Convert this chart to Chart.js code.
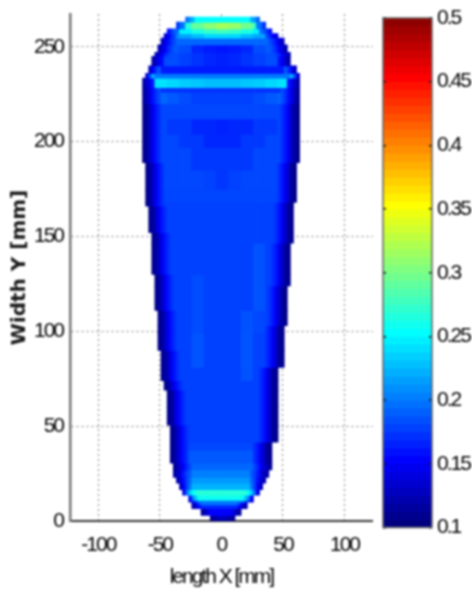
<!DOCTYPE html>
<html><head><meta charset="utf-8">
<style>
html,body{margin:0;padding:0;background:#fff;width:472px;height:597px;overflow:hidden}
canvas{position:absolute;left:0;top:0;filter:blur(0.8px)}
</style>
<script src="https://cdn.jsdelivr.net/npm/chart.js@4"></script>
</head><body>
<canvas id="map" width="472" height="597"></canvas>
<canvas id="bar" width="472" height="597"></canvas>
<script>
const xTickLabels = ['-100','-50','0','50','100'];
const yTickLabels = ['0','50','100','150','200','250'];
const colorbarTicks = {'0.1':'0.1','0.15':'0.15','0.2':'0.2','0.25':'0.25','0.3':'0.3','0.35':'0.35','0.4':'0.4','0.45':'0.45','0.5':'0.5'};
const xTitle = 'length X [mm]';
const yTitle = 'Width Y [mm]';

// Row boundaries of the map, bottom to top (mm)
const rowEdges = [0,3,6.5,8.5,10,11,13.6,16.6,20,23,27,30.5,37.4,41.6,50.6,60,69,74,81,90,99,103,111,124,130,146.5,152,166,168,175,185,189,197,204,212,220,226,228.5,233.5,236,240,245,247,251,254.6,257,259.5,263,265.6];
const rowLeft  = [-9.4,-17,-23,-23,-27,-27,-30.5,-34,-36,-38.6,-40,-42.5,-42.5,-42.5,-44,-44,-46,-48,-48,-51,-51,-51,-53,-53,-55.7,-55.7,-59,-62,-62,-62,-62,-64,-64,-64,-64,-64,-64,-64,-61.5,-59,-56,-54,-52,-50,-46,-43,-37,-29];
const rowRight = [12,15,21,21,26,26,30,33,37,39.6,42,42,42,45,45,46,47,47,50,50,50,53,53,55.7,55.7,58,58,58,61,61,61,64,64,64,64,64,64,64,64,60,57,55,53,50,46,41,37,31];

// Values of the outer columns, walking inwards from the outline
const bodyEdge = [.105,.112,.128,.145,.158,.168];
const rowEdgeValues = [
 [.11,.115,.12],[.11,.125,.14],[.115,.13,.15],[.125,.15,.175],[.13,.16,.18],[.15,.2,.23],[.14,.19,.23,.25],
 [.125,.15,.175,.195],[.12,.135,.155,.175,.19],[.115,.125,.14,.16,.175,.185],[.11,.12,.135,.15,.165,.178],
 bodyEdge,bodyEdge,bodyEdge,bodyEdge,bodyEdge,bodyEdge,bodyEdge,bodyEdge,bodyEdge,bodyEdge,bodyEdge,bodyEdge,bodyEdge,
 bodyEdge,bodyEdge,bodyEdge,bodyEdge,bodyEdge,bodyEdge,bodyEdge,bodyEdge,bodyEdge,bodyEdge,bodyEdge,
 [.11,.125,.14,.155,.17,.18],[.11,.125,.14,.155,.17,.18],[.115,.13,.145,.16],[.135,.18,.22],
 [.125,.15,.17,.185],[.115,.13,.145,.155],[.12,.135,.15,.165,.175],[.12,.135,.15,.165,.175],[.125,.14,.155,.17,.18],
 [.135,.15,.165,.18],[.155,.17,.185,.195],[.17,.19,.2],[.19,.21,.22],[.21,.225,.235]
];

// Interior values at x = -60,-50,...,60 mm (one number = the same across the row)
const streakRight20 = [.175,.175,.175,.175,.175,.175,.175,.175,.182,.175,.175,.175,.175];
const streakBoth    = [.175,.175,.175,.175,.183,.175,.175,.175,.183,.175,.175,.175,.175];
const streakBothB   = [.175,.175,.175,.175,.18,.175,.175,.175,.182,.178,.175,.175,.175];
const streakHigh    = [.175,.175,.175,.175,.18,.175,.175,.175,.175,.182,.175,.175,.175];
const streakRight30 = [.175,.175,.175,.175,.175,.175,.175,.175,.175,.182,.175,.175,.175];
const triangleA = [.178,.178,.178,.178,.178,.176,.171,.176,.178,.178,.178,.178,.178];
const triangleB = [.178,.178,.178,.178,.172,.172,.172,.172,.172,.178,.178,.178,.178];
const triangleC = [.178,.178,.178,.172,.172,.165,.165,.165,.172,.172,.178,.178,.178];
const triangleD = [.178,.178,.172,.172,.165,.165,.163,.165,.165,.172,.172,.178,.178];
const shoulder  = [.19,.19,.185,.18,.175,.175,.175,.175,.175,.18,.185,.19,.19];
const darkTop1  = [.185,.185,.185,.18,.165,.16,.158,.16,.165,.18,.185,.185,.185];
const darkTop2  = [.18,.18,.18,.175,.17,.165,.162,.165,.17,.175,.18,.18,.18];
const band230   = [.24,.24,.235,.23,.228,.225,.225,.225,.228,.23,.235,.24,.24];
const topA      = [.2,.2,.205,.215,.225,.235,.235,.235,.225,.215,.205,.2,.2];
const topB      = [.21,.21,.22,.245,.26,.27,.275,.27,.26,.245,.225,.21,.21];
const topC      = [.23,.23,.24,.265,.29,.305,.315,.31,.295,.27,.24,.23,.23];
const rowInterior = [
 .125,.15,.165,.195,.2,.255,.265,.22,.21,.2,.19,.185,.178,.175,.175,.175,.175,
 streakRight20,streakBoth,streakBoth,streakBothB,streakBothB,streakHigh,streakHigh,streakRight30,
 .175,.175,.175,.177,triangleA,triangleB,triangleB,triangleC,triangleD,.178,
 shoulder,.17,band230,.197,.16,darkTop2,darkTop2,darkTop1,.19,topA,topB,topC,.25
];

// Colour bar: the 64 levels of the colour map
const colorLevels = [.1,.10625,.1125,.11875,.125,.13125,.1375,.14375,.15,.15625,.1625,.16875,.175,.18125,.1875,.19375,
 .2,.20625,.2125,.21875,.225,.23125,.2375,.24375,.25,.25625,.2625,.26875,.275,.28125,.2875,.29375,
 .3,.30625,.3125,.31875,.325,.33125,.3375,.34375,.35,.35625,.3625,.36875,.375,.38125,.3875,.39375,
 .4,.40625,.4125,.41875,.425,.43125,.4375,.44375,.45,.45625,.4625,.46875,.475,.48125,.4875,.49375];

function jet(v){
  const t=(v-0.1)/0.4;
  const ramp=(a)=>Math.max(0,Math.min(1,1.5-Math.abs(4*t-a)));
  return `rgb(${Math.round(255*ramp(3))},${Math.round(255*ramp(2))},${Math.round(255*ramp(1))})`;
}

const cells=[], cellColors=[];
for(let r=0;r<rowLeft.length;r++){
  const cols=[];
  for(let c=-62.75;c<64;c+=2.5) if(c>=rowLeft[r]&&c<=rowRight[r]) cols.push(c);
  cols.forEach((c,k)=>{
    const d=Math.min(k,cols.length-1-k), edge=rowEdgeValues[r], inner=rowInterior[r];
    let v;
    if(d<edge.length) v=edge[d];
    else if(Array.isArray(inner)) v=inner[Math.max(0,Math.min(12,Math.round((c+60)/10)))];
    else v=inner;
    cells.push({x:c,y:[rowEdges[r],rowEdges[r+1]]});
    cellColors.push(jet(v));
  });
}

Chart.defaults.animation=false;
const tickFont='"Liberation Sans",sans-serif';
const tighten={id:'tighten',beforeDraw(c){c.ctx.letterSpacing='-2px';}};
new Chart(document.getElementById('map'),{
  type:'bar',
  data:{datasets:[{data:cells,backgroundColor:cellColors,borderWidth:0,barThickness:3.1,inflateAmount:0.4,grouped:false}]},
  options:{
    responsive:false,devicePixelRatio:1,
    layout:{padding:{top:14,right:99.2,left:0,bottom:0}},
    plugins:{legend:{display:false},tooltip:{enabled:false}},
    scales:{
      x:{type:'linear',offset:false,min:-123,max:123,
        afterFit:s=>{s.height=76;s.paddingLeft=0;s.paddingRight=0},
        grid:{offset:false,color:'#808080',lineWidth:1,drawTicks:false},
        border:{color:'#333',width:2,dash:[2,3]},
        ticks:{stepSize:50,includeBounds:false,padding:12,maxRotation:0,color:'#000',font:{family:tickFont,size:21},
          callback:v=>xTickLabels.includes(String(v))?String(v):''},
        title:{display:true,text:xTitle,color:'#000',font:{family:tickFont,size:21},padding:{top:0,bottom:7}}},
      y:{type:'linear',min:0,max:267.3,
        afterFit:s=>{s.width=70;s.paddingTop=0;s.paddingBottom=0},
        afterUpdate:s=>{
          const draw=Object.getPrototypeOf(s).drawTitle;
          s.drawTitle=function(){const c=this.ctx;c.save();c.letterSpacing='0px';draw.call(this);c.restore();};
        },
        grid:{color:'#808080',lineWidth:1,drawTicks:false},
        border:{color:'#777',width:2.5,dash:[2,3]},
        ticks:{stepSize:50,includeBounds:false,padding:7,color:'#000',font:{family:tickFont,size:21},
          callback:v=>yTickLabels.includes(String(v))?String(v):''},
        title:{display:true,text:yTitle,color:'#1a1a1a',font:{family:'"DejaVu Sans"',size:20,weight:'bold'},padding:{top:8,bottom:0}}}
    }
  },
  plugins:[tighten]
});

const frame={id:'frame',afterDraw(c){const a=c.chartArea,x=c.ctx;x.save();x.strokeStyle='#666';x.lineWidth=1.5;x.strokeRect(a.left,a.top,a.right-a.left,a.bottom-a.top);x.restore();}};
new Chart(document.getElementById('bar'),{
  type:'bar',
  data:{labels:['c'],datasets:[{
    data:colorLevels.map(v=>({x:'c',y:[v,v+0.00625]})),
    backgroundColor:colorLevels.map(jet),borderWidth:0,grouped:false,barPercentage:1,categoryPercentage:1,inflateAmount:0.4}]},
  options:{
    responsive:false,devicePixelRatio:1,
    layout:{padding:{left:383,right:0,top:18,bottom:69.5}},
    plugins:{legend:{display:false},tooltip:{enabled:false}},
    scales:{
      x:{display:false},
      y:{position:'right',min:0.1,max:0.5,
        afterFit:s=>{s.width=40;s.paddingTop=0;s.paddingBottom=0},
        grid:{z:1,color:'#111',lineWidth:1.5,drawTicks:false,drawOnChartArea:true},
        border:{display:false,dash:[3,43]},
        ticks:{stepSize:0.05,padding:5,color:'#000',font:{family:tickFont,size:21},
          callback:v=>colorbarTicks[String(+v.toFixed(2))]||''}}
    }
  },
  plugins:[tighten,frame]
});
</script>
</body></html>
